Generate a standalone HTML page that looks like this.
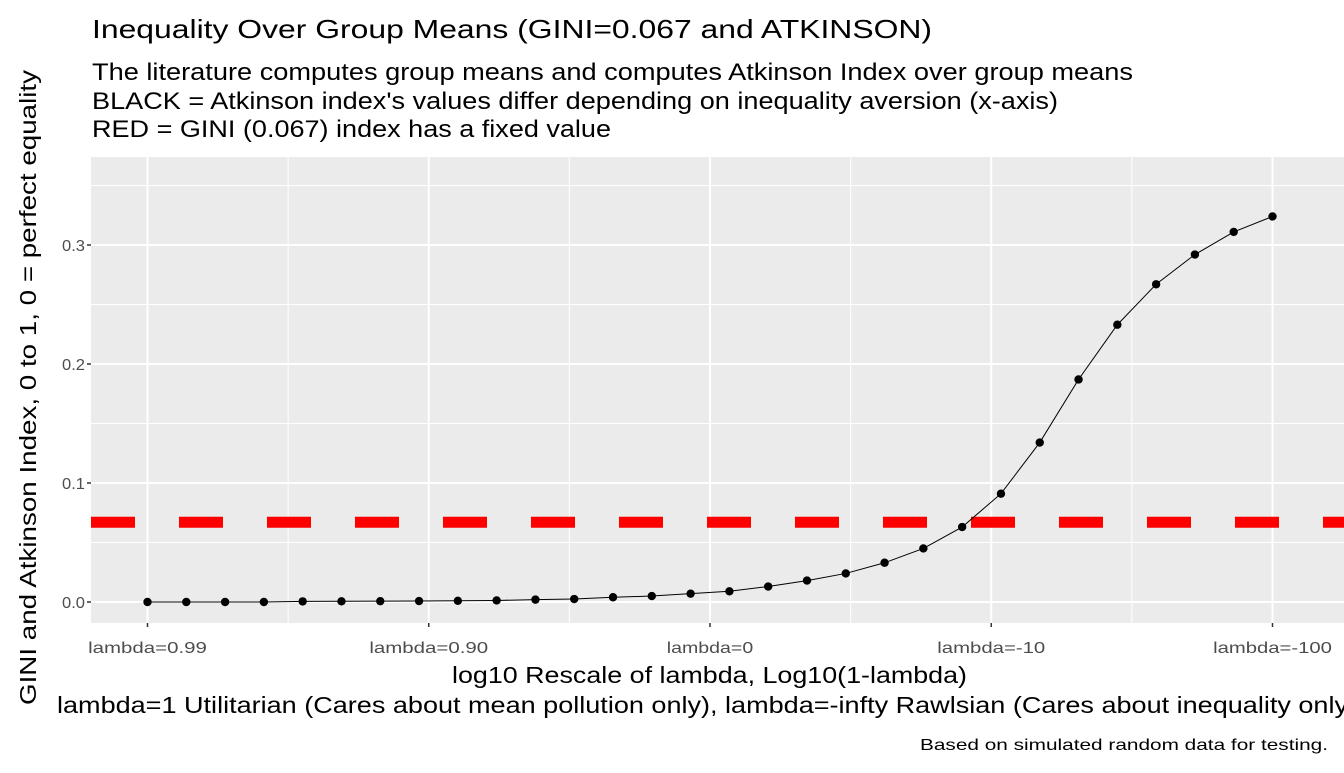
<!DOCTYPE html>
<html><head><meta charset="utf-8"><style>
body{margin:0;background:#fff;width:1344px;height:768px;overflow:hidden;font-family:"Liberation Sans",sans-serif}
</style></head><body>
<svg width="1344" height="768" font-family="Liberation Sans, sans-serif">
<text x="92" y="38" font-size="26" textLength="840" lengthAdjust="spacingAndGlyphs">Inequality Over Group Means (GINI=0.067 and ATKINSON)</text>
<g font-size="24">
<text x="92" y="80" textLength="1041" lengthAdjust="spacingAndGlyphs">The literature computes group means and computes Atkinson Index over group means</text>
<text x="92" y="109" textLength="966" lengthAdjust="spacingAndGlyphs">BLACK = Atkinson index's values differ depending on inequality aversion (x-axis)</text>
<text x="92" y="137" textLength="519" lengthAdjust="spacingAndGlyphs">RED = GINI (0.067) index has a fixed value</text>
</g>
<rect x="91" y="157" width="1253" height="466" fill="#EBEBEB"/>
<g id="grid"></g>
<g id="marks"></g>
<g id="axes" fill="#4D4D4D"></g>
<text x="452" y="683" font-size="23" textLength="515" lengthAdjust="spacingAndGlyphs">log10 Rescale of lambda, Log10(1-lambda)</text>
<text x="57" y="713" font-size="23" textLength="1300" lengthAdjust="spacingAndGlyphs">lambda=1 Utilitarian (Cares about mean pollution only), lambda=-infty Rawlsian (Cares about inequality only)</text>
<text transform="translate(36,705) rotate(-90)" font-size="23" textLength="635" lengthAdjust="spacingAndGlyphs">GINI and Atkinson Index, 0 to 1, 0 = perfect equality</text>
<text x="920" y="750" font-size="16" textLength="408" lengthAdjust="spacingAndGlyphs">Based on simulated random data for testing.</text>
</svg>
<script>
const xTicks=[-2,-1,0,1,2];
const xTickLabels=["lambda=0.99","lambda=0.90","lambda=0","lambda=-10","lambda=-100"];
const yTicks=[0,0.1,0.2,0.3];
const yTickLabels=["0.0","0.1","0.2","0.3"];
const atkinson=[0,0,0,0,0.0005,0.0006,0.0007,0.0008,0.001,0.0013,0.002,0.0025,0.004,0.005,0.007,0.009,0.013,0.018,0.024,0.033,0.045,0.063,0.091,0.134,0.187,0.233,0.267,0.292,0.311,0.324];
const gini=[0.067];
const NS="http://www.w3.org/2000/svg";
const X=v=>710+v*281.25, Y=v=>602-v*1190;
function mk(t,a,p){const e=document.createElementNS(NS,t);for(const k in a)e.setAttribute(k,a[k]);p.appendChild(e);return e;}
const grid=document.getElementById('grid'),marks=document.getElementById('marks'),axes=document.getElementById('axes');
const charW=10.8;
for(let i=0;i<xTicks.length;i++){
 if(i<xTicks.length-1){const m=mk('line',{x1:X(xTicks[i]+0.5),x2:X(xTicks[i]+0.5),y1:157,y2:623,stroke:'#fff','stroke-width':1},grid);}
 const g=mk('line',{x1:X(xTicks[i]),x2:X(xTicks[i]),y1:157,y2:623,stroke:'#fff','stroke-width':2},grid);
 
 const tk=mk('line',{x1:X(xTicks[i]),x2:X(xTicks[i]),y1:623,y2:627,stroke:'#333','stroke-width':1.5},axes);
 
 const t=mk('text',{x:X(xTicks[i]),y:653,'font-size':16,'text-anchor':'middle'},axes);t.textContent=xTickLabels[i];
 t.setAttribute('textLength',xTickLabels[i].length*charW);t.setAttribute('lengthAdjust','spacingAndGlyphs');
 
}
for(let i=0;i<yTicks.length;i++){
 const m=mk('line',{x1:91,x2:1344,y1:Y(yTicks[i]+0.05),y2:Y(yTicks[i]+0.05),stroke:'#fff','stroke-width':1},grid);
 
 const g=mk('line',{x1:91,x2:1344,y1:Y(yTicks[i]),y2:Y(yTicks[i]),stroke:'#fff','stroke-width':2},grid);
 
 const tk=mk('line',{x1:87,x2:91,y1:Y(yTicks[i]),y2:Y(yTicks[i]),stroke:'#333','stroke-width':1.5},axes);
 
 const t=mk('text',{x:85,y:Y(yTicks[i])+6,'font-size':16,'text-anchor':'end'},axes);t.textContent=yTickLabels[i];
 t.setAttribute('textLength',23);t.setAttribute('lengthAdjust','spacingAndGlyphs');
 
}
const gl=mk('line',{x1:91,x2:1344,y1:Y(gini[0]),y2:Y(gini[0]),stroke:'#FF0000','stroke-width':11,'stroke-dasharray':'44 44'},marks);

const xs=atkinson.map((v,i)=>-2+4*i/(atkinson.length-1));
const pl=mk('polyline',{points:atkinson.map((v,i)=>X(xs[i])+','+Y(v)).join(' '),fill:'none',stroke:'#000','stroke-width':1},marks);

atkinson.forEach((v,i)=>{const c=mk('circle',{cx:X(xs[i]),cy:Y(v),r:4.2,fill:'#000'},marks);
 });
</script>
</body></html>
